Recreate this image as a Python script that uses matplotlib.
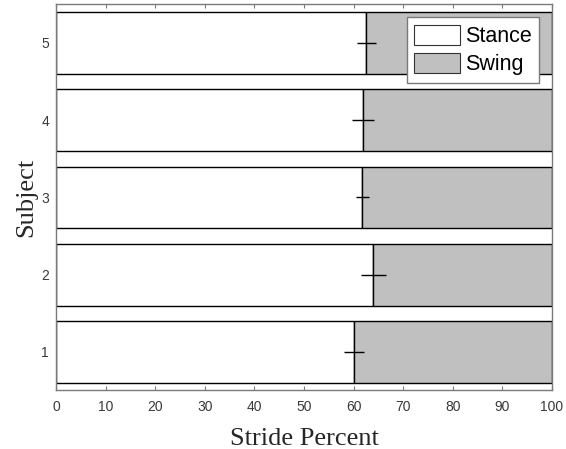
import matplotlib
matplotlib.use("Agg")
import matplotlib.pyplot as plt
from matplotlib.patches import Patch

# Gait phase split per subject (percent of stride)
subjects = [1, 2, 3, 4, 5]
stance_pct = [60.1, 64.0, 61.8, 61.9, 62.6]
stance_sd = [2.1, 2.5, 1.4, 2.3, 2.0]
stride_total = 100
x_ticks = [0, 10, 20, 30, 40, 50, 60, 70, 80, 90, 100]

swing_pct = [stride_total - s for s in stance_pct]

fig = plt.figure(figsize=(5.66, 4.49), dpi=100)
ax = fig.add_axes([0.0989, 0.1303, 0.8763, 0.8601])

sans = "Liberation Sans"
serif = "Liberation Serif"
axis_gray = "#7a7a7a"

ax.barh(subjects, stance_pct, height=0.8, color="white",
        edgecolor="black", linewidth=1.0, label="Stance", zorder=2)
ax.barh(subjects, swing_pct, left=stance_pct, height=0.8, color="#c0c0c0",
        edgecolor="black", linewidth=1.0, label="Swing", zorder=2)
ax.errorbar(stance_pct, subjects, xerr=stance_sd, fmt="none",
            ecolor="black", elinewidth=1.0, capsize=0, zorder=3)

ax.set_xlim(0, stride_total)
ax.set_ylim(0.5, 5.5)
ax.set_xticks(x_ticks)
ax.set_yticks(subjects)

ax.tick_params(axis="x", direction="in", length=3, width=0.8, color=axis_gray,
               top=True, bottom=True, labelsize=10, labelcolor="#3a3a3a", pad=7)
ax.tick_params(axis="y", length=0, labelsize=10, labelcolor="#3a3a3a", pad=5)
for lab in ax.get_xticklabels() + ax.get_yticklabels():
    lab.set_fontfamily(sans)

for sp in ax.spines.values():
    sp.set_color(axis_gray)
    sp.set_linewidth(1.0)

ax.set_xlabel("Stride Percent", fontfamily=serif, fontsize=19, color="#262626",
              labelpad=10)
ax.set_ylabel("Subject", fontfamily=serif, fontsize=19, color="#262626",
              labelpad=3)

handles = [Patch(facecolor="white", edgecolor="#333333", linewidth=0.8, label="Stance"),
           Patch(facecolor="#c0c0c0", edgecolor="#333333", linewidth=0.8, label="Swing")]
leg = ax.legend(handles=handles, loc="upper right", fancybox=False, framealpha=1,
                prop={"family": sans, "size": 15.5}, handlelength=2.15,
                handleheight=1.1, handletextpad=0.2, borderpad=0.35,
                labelspacing=0.25, borderaxespad=0.6)
leg.get_frame().set_edgecolor(axis_gray)
leg.get_frame().set_linewidth(1.0)
for t in leg.get_texts():
    t.set_color("black")

fig.savefig("out.png", dpi=100)
